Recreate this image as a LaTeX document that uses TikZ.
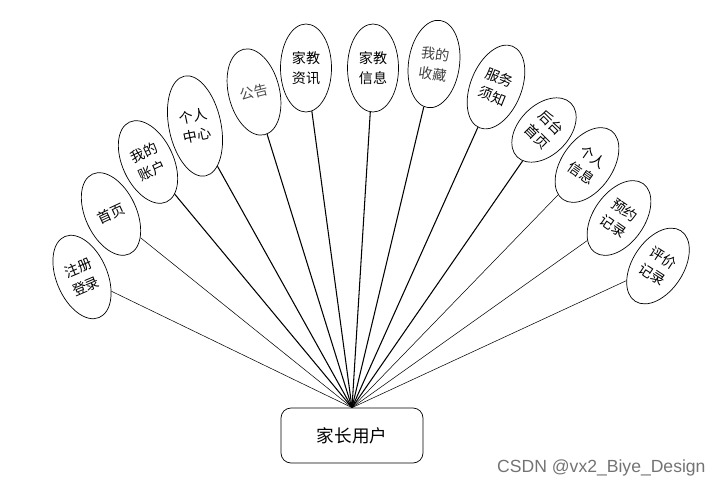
\documentclass[tikz,border=0pt]{standalone}
\usepackage{fontspec}
\setmainfont{Liberation Sans}
\newfontfamily\cjk{Noto Sans CJK SC}
\usetikzlibrary{shapes.geometric}

\begin{document}
\begin{tikzpicture}[x=0.3mm, y=-0.3mm,
	every node/.style={font=\cjk\fontsize{12}{17}\selectfont},
	item/.style={draw, ellipse, line width=0.6pt, minimum width=15.3mm, minimum height=26.4mm, inner sep=0pt, align=center},
	link/.style={line width=0.9pt}, thinlink/.style={line width=0.45pt},
	userbox/.style={draw, line width=0.6pt, rounded corners=3mm, minimum width=42.6mm, minimum height=16.5mm, font=\cjk\fontsize{15}{18}\selectfont}]
	\useasboundingbox (0,0) rectangle (725,489);
	% the user in the middle
	\node[userbox] (user) at (352,435.5) {家长用户};
	% the fan of functions
	\node[item, rotate=23] (reg) at (82,277) {注册\\登录};
	\node[item, rotate=25] (home) at (111,214) {首页};
	\node[item, rotate=25] (acct) at (148,162) {我的\\账户};
	\node[item, rotate=12, minimum width=15.6mm, minimum height=30.6mm] (center) at (195,126) {个人\\中心};
	\node[item, rotate=14, text=black!70] (notice) at (254,92) {公告};
	\node[item] (news) at (306,68) {家教\\资讯};
	\node[item] (info) at (373,68) {家教\\信息};
	\node[item, rotate=-8, text=black!75] (fav) at (434,64) {我的\\收藏};
	\node[item, rotate=-22] (guide) at (496,87) {服务\\须知};
	\node[item, rotate=-45, minimum width=15mm, minimum height=22.8mm] (admin) at (544,130) {后台\\首页};
	\node[item, rotate=-35, minimum height=25.2mm] (pinfo) at (587,165) {个人\\信息};
	\node[item, rotate=-35, minimum height=25.2mm] (book) at (619,218) {预约\\记录};
	\node[item, rotate=-33, minimum height=25.2mm] (review) at (658,266) {评价\\记录};
	% connectors
	\draw[thinlink] (reg) -- (user.north);
	\draw[thinlink] (home) -- (user.north);
	\draw[link] (acct) -- (user.north);
	\draw[link] (center) -- (user.north);
	\draw[link] (notice) -- (user.north);
	\draw[link] (news) -- (user.north);
	\draw[link] (info) -- (user.north);
	\draw[link] (fav) -- (user.north);
	\draw[link] (guide) -- (user.north);
	\draw[link] (admin) -- (user.north);
	\draw[thinlink] (pinfo) -- (user.north);
	\draw[thinlink] (book) -- (user.north);
	\draw[thinlink] (review) -- (user.north);
	\node[text=black!55, font=\fontsize{15}{17}\selectfont, anchor=west, inner sep=0pt] (mark) at (497,468) {CSDN @vx2\_Biye\_Design};
\end{tikzpicture}
\end{document}
